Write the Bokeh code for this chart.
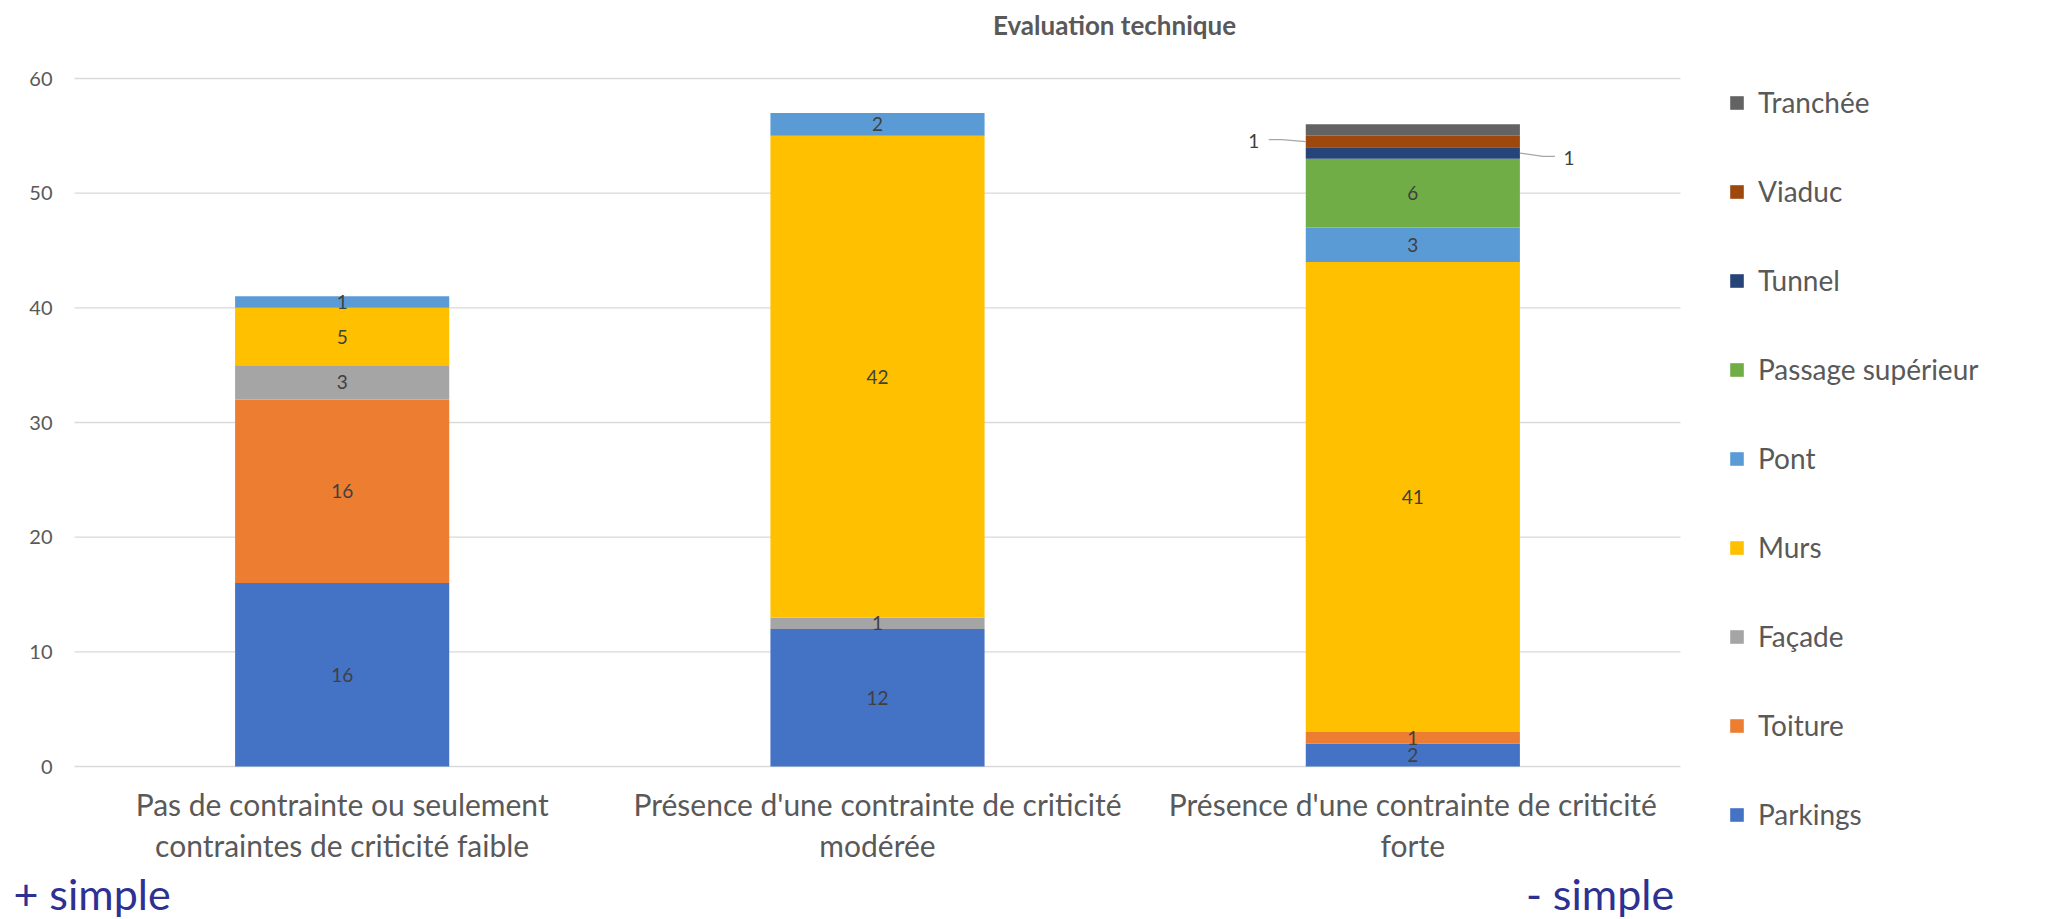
from bokeh.plotting import figure
from bokeh.models import (ColumnDataSource, Range1d, FixedTicker, Legend, LegendItem,
                          LabelSet, Label, LinearAxis)
from bokeh.core.properties import value
from bokeh.embed import file_html
from bokeh.resources import INLINE

# --- data -------------------------------------------------------------
title = "Evaluation technique"
categories = [
    "Pas de contrainte ou seulement\ncontraintes de criticité faible",
    "Présence d'une contrainte de criticité\nmodérée",
    "Présence d'une contrainte de criticité\nforte",
]
series = ["Parkings", "Toiture", "Façade", "Murs", "Pont",
          "Passage supérieur", "Tunnel", "Viaduc", "Tranchée"]
parkings = [16, 12, 2]
toiture = [16, 0, 1]
facade = [3, 1, 0]
murs = [5, 42, 41]
pont = [1, 2, 3]
passage_superieur = [0, 0, 6]
tunnel = [0, 0, 1]
viaduc = [0, 0, 1]
tranchee = [0, 0, 1]
y_ticks = [0, 10, 20, 30, 40, 50, 60]
direction_labels = ["+ simple", "- simple"]

values = [parkings, toiture, facade, murs, pont, passage_superieur, tunnel, viaduc, tranchee]
colors = ["#4472C4", "#ED7D31", "#A5A5A5", "#FFC000", "#5B9BD5",
          "#70AD47", "#264478", "#9E480E", "#636363"]
# how each series gets its value label: inside the segment, with a leader
# line to the left / right of the bar, or none at all
label_mode = ["in", "in", "in", "in", "in", "in", "right", "left", "none"]

FONT = "Lato"
TXT = "#595959"
DIR_COLOR = "#2E3192"

# --- geometry ---------------------------------------------------------
# The frame covers the canvas below the title, so the axes (drawn at fixed
# locations), the legend and the captions all sit inside it; the bars
# occupy a PLOT_W x PLOT_H area whose top-left corner is at (PL, PT).
W, H = 2049, 919
TOP = 40                      # frame top, just under the title
PL, PT = 74, 78
PLOT_W, PLOT_H = 1606, 688
BAR_W = 0.4
n_cat = len(categories)
x_pos = [i + 0.5 for i in range(n_cat)]
px_x = PLOT_W / n_cat                        # pixels per x unit
px_y = PLOT_H / (y_ticks[-1] - y_ticks[0])   # pixels per y unit
x_min = -PL / px_x
x_max = (W - PL) / px_x
y_max = y_ticks[-1] + (PT - TOP) / px_y
y_min = y_ticks[0] - (H - PT - PLOT_H) / px_y

keys = [f"s{i}" for i in range(len(series))]
data = {"x": x_pos}
for k, v in zip(keys, values):
    data[k] = v
source = ColumnDataSource(data)

p = figure(width=W, height=H, x_range=Range1d(x_min, x_max),
           y_range=Range1d(y_min, y_max),
           output_backend="svg", toolbar_location=None,
           min_border_left=0, min_border_right=0,
           min_border_top=TOP, min_border_bottom=0)
p.outline_line_color = None
# pixel-based helper range used to place the title and the direction captions
p.extra_x_ranges = {"px": Range1d(0, W)}

# horizontal gridlines across the bar area
p.xgrid.visible = False
p.ygrid.visible = False
p.segment(x0=[0] * len(y_ticks), x1=[n_cat] * len(y_ticks), y0=y_ticks, y1=y_ticks,
          line_color="#D9D9D9", line_width=1.3)

renderers = p.vbar_stack(keys, x="x", width=BAR_W, source=source,
                         color=colors, line_color=None)

# value axis drawn along the left edge of the bar area
p.yaxis.fixed_location = 0
p.yaxis.ticker = FixedTicker(ticks=y_ticks)
p.yaxis.axis_line_color = None
p.yaxis.major_tick_line_color = None
p.yaxis.minor_tick_line_color = None
p.yaxis.major_tick_out = 0
p.yaxis.major_label_text_font = FONT
p.yaxis.major_label_text_font_size = "20px"
p.yaxis.major_label_text_color = TXT
p.yaxis.major_label_standoff = 22

# category axis drawn along the zero line
p.xaxis.fixed_location = y_ticks[0]
p.xaxis.ticker = FixedTicker(ticks=x_pos)
p.xaxis.major_label_overrides = {x: c for x, c in zip(x_pos, categories)}
p.xaxis.axis_line_color = None
p.xaxis.major_tick_line_color = None
p.xaxis.minor_tick_line_color = None
p.xaxis.major_tick_out = 0
p.xaxis.major_label_text_font = FONT
p.xaxis.major_label_text_font_size = "30px"
p.xaxis.major_label_text_color = TXT
p.xaxis.major_label_text_line_height = 1.139
p.xaxis.major_label_standoff = 19


def caption_axis(ticks, labels, size, color, standoff, style="normal", at=None):
    return LinearAxis(x_range_name="px", ticker=FixedTicker(ticks=ticks),
                      major_label_overrides=dict(zip(ticks, labels)),
                      fixed_location=at,
                      axis_line_color=None, major_tick_line_color=None,
                      minor_tick_line_color=None, major_tick_out=0, major_tick_in=0,
                      major_label_standoff=standoff, major_label_text_font=FONT,
                      major_label_text_font_size=size,
                      major_label_text_font_style=style,
                      major_label_text_color=color)


# chart title above the frame
p.add_layout(caption_axis([1114], [title], "26px", TXT, 0, "bold"), "above")
# reading direction under the category labels
p.add_layout(caption_axis([91.5, 1599.5], direction_labels, "43px",
                          DIR_COLOR, 0, at=y_ticks[0] - 101 / px_y), "below")

# value labels
lab_x, lab_y, lab_t = [], [], []
leaders = []
for si, (vals, mode) in enumerate(zip(values, label_mode)):
    for bi, v in enumerate(vals):
        if v <= 0 or mode == "none":
            continue
        base = sum(values[j][bi] for j in range(si))
        yc = base + v / 2
        if mode == "in":
            lab_x.append(x_pos[bi])
            lab_y.append(yc)
            lab_t.append(str(v))
        else:
            leaders.append((mode, x_pos[bi], yc, v))

lsrc = ColumnDataSource(dict(x=lab_x, y=lab_y, t=lab_t))
p.add_layout(LabelSet(x="x", y="y", text="t", source=lsrc,
                      text_align="center", text_baseline="middle",
                      text_font=value(FONT), text_font_size="19px", text_color="#404040"))

for mode, xc, yc, v in leaders:
    if mode == "left":
        ex = xc - BAR_W / 2
        pts = [(-37, 2), (-24, 2), (0, 0)]
        tx, ty = -52, 1
    else:
        ex = xc + BAR_W / 2
        pts = [(0, 0), (23, -3.3), (35, -3.3)]
        tx, ty = 49, -5
    p.line([ex + dx / px_x for dx, _ in pts], [yc + dy / px_y for _, dy in pts],
           line_color="#A6A6A6", line_width=1.3)
    p.add_layout(Label(x=ex, y=yc, x_offset=tx, y_offset=ty, text=str(v),
                       text_align="center", text_baseline="middle",
                       text_font=FONT, text_font_size="19px", text_color="#404040"))

# legend to the right of the bars, top entry is the last series
items = [LegendItem(label=s, renderers=[r]) for s, r in zip(series, renderers)][::-1]
legend_h = len(items) * 48 + (len(items) - 1) * 41
legend = Legend(items=items, location=(PL + PLOT_W + 48, H - PT - legend_h),
                glyph_width=17, glyph_height=17, label_height=48, spacing=41,
                label_standoff=13, padding=0, margin=0,
                border_line_color=None, background_fill_alpha=0,
                label_text_font=FONT, label_text_font_size="28px",
                label_text_color=TXT)
p.add_layout(legend)

open("out.html", "w").write(file_html(p, INLINE))
